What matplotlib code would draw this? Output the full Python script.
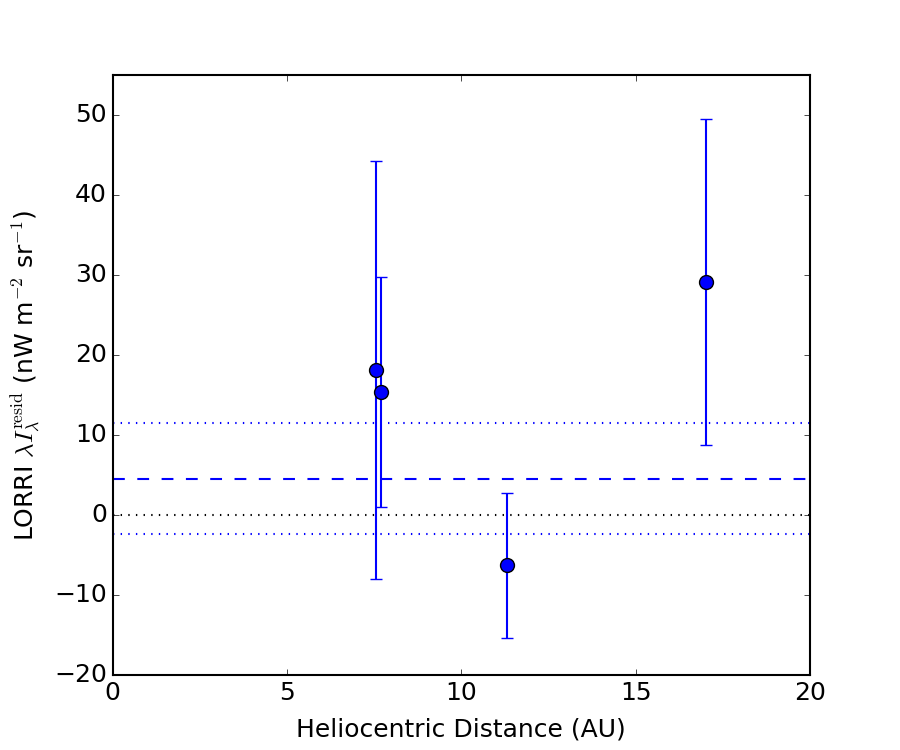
import numpy as np
import matplotlib
matplotlib.use('Agg')
import matplotlib.pyplot as plt

plt.style.use('classic')
plt.rcParams.update({'font.size': 18, 'axes.linewidth': 1.5,
                     'figure.facecolor': 'white', 'savefig.facecolor': 'white'})

# heliocentric distance (AU), residual intensity and 1-sigma errors
dist = [7.55, 7.69, 11.31, 17.02]
resid = [18.1, 15.4, -6.3, 29.1]
err = [26.1, 14.4, 9.05, 20.35]

mean_resid = 4.45
mean_lo = -2.4
mean_hi = 11.45

fig, ax = plt.subplots(figsize=(9, 7.5))

ax.axhline(0, color='k', ls=':', lw=1.5, dashes=(1, 4.5))
ax.axhline(mean_resid, color='b', ls='--', lw=1.5, dashes=(8.5, 9))
ax.axhline(mean_hi, color='b', ls=':', lw=1.5, dashes=(1, 4.5))
ax.axhline(mean_lo, color='b', ls=':', lw=1.5, dashes=(1, 4.5))

ax.errorbar(dist, resid, yerr=err, fmt='o', color='b', mfc='b', mec='k',
            ms=10, lw=1.5, capsize=4.5, mew=1)

ax.set_xlim(0, 20)
ax.set_ylim(-20, 55)
ax.set_xticks([0, 5, 10, 15, 20])
ax.set_yticks(np.arange(-20, 51, 10))
ax.set_xlabel('Heliocentric Distance (AU)', labelpad=9)
ax.set_ylabel(r'LORRI $\lambda I_\lambda^{\rm resid}$ (nW m$^{-2}$ sr$^{-1}$)', labelpad=9)

plt.savefig('out.png', dpi=100)
